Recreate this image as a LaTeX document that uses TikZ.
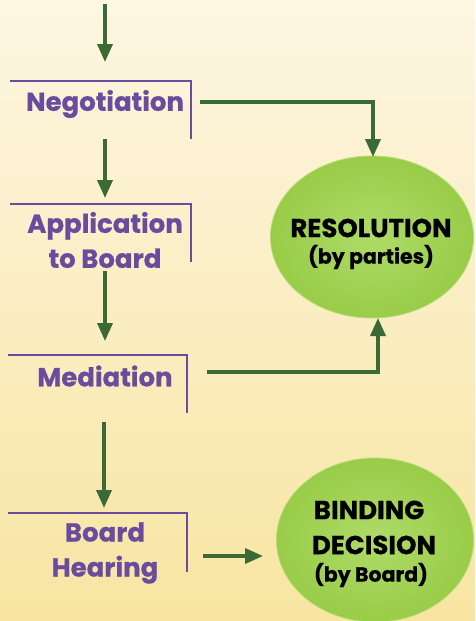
\documentclass[tikz,border=0pt]{standalone}
\usepackage{fontspec}
\setmainfont{Poppins}[BoldFeatures={FakeBold=0.6}]
\usetikzlibrary{arrows.meta,shapes.geometric}
\definecolor{bgtop}{HTML}{FDF6E2}
\definecolor{bgbot}{HTML}{F8E5A2}
\definecolor{purp}{HTML}{6A4C9E}
\definecolor{arrgreen}{HTML}{3B6A34}
\definecolor{ellin}{HTML}{AEDB68}
\definecolor{ellout}{HTML}{99CC48}
\definecolor{ellrim}{HTML}{B4DE74}
\begin{document}
\begin{tikzpicture}[x=1pt,y=-1pt,
  arr/.style={draw=arrgreen,line width=3.6pt,-{Triangle[length=18pt,width=15pt]}},
  bracket/.style={draw=purp,line width=1.6pt},
  lbl/.style={text=purp,font=\fontsize{26}{35}\selectfont\bfseries,align=center,inner sep=0pt},
  ell/.style={ellipse,inner sep=0pt,inner color=ellin,outer color=ellout,draw=ellrim,line width=0.8pt},
  etitle/.style={text=black,font=\fontsize{26}{30}\selectfont\bfseries,inner sep=0pt},
  esub/.style={text=black,font=\fontsize{20.5}{24}\selectfont\bfseries,inner sep=0pt}]
% background
\shade[top color=bgtop,bottom color=bgbot] (0,0) rectangle (475,621);
\useasboundingbox (0,0) rectangle (475,621);

% ellipses
\node[ell,minimum width=203pt,minimum height=162pt] (res) at (372,237) {};
\node[ell,minimum width=197pt,minimum height=164pt] (bind) at (375,540) {};

% brackets
\draw[bracket] (10,81) -- (191,81) -- (191,139);
\draw[bracket] (10,204) -- (191,204) -- (191,262);
\draw[bracket] (8,355) -- (187,355) -- (187,413);
\draw[bracket] (8,513) -- (187,513) -- (187,572);

% labels
\node[lbl] (neg) at (105,104) {Negotiation};
\node[lbl] (app) at (105,240) {Application\\to Board};
\node[lbl] (med) at (105,376) {Mediation};
\node[lbl] (hear) at (105,553) {Board\\Hearing};

\node[etitle] (res1) at (371,228) {RESOLUTION};
\node[esub] (res2) at (371,257) {(by parties)};
\node[etitle] (bind1) at (369,510) {BINDING};
\node[etitle] (bind2) at (374,545) {DECISION};
\node[esub] (bind3) at (371,575) {(by Board)};

% connector endpoints
\coordinate (start) at (105,4);
\coordinate (negIn) at (105,62);
\coordinate (negDown) at (105,139);
\coordinate (appIn) at (105,198);
\coordinate (appDown) at (105,271);
\coordinate (medIn) at (105,341);
\coordinate (medDown) at (104,422);
\coordinate (hearIn) at (104,508);
\coordinate (negOut) at (200,102);
\coordinate (resTop) at (373,157);
\coordinate (medOut) at (207,372);
\coordinate (resBot) at (378,318);
\coordinate (hearOut) at (203,556);
\coordinate (bindIn) at (263,556);

% connectors
\draw[arr] (start) -- (negIn);
\draw[arr] (negDown) -- (appIn);
\draw[arr] (appDown) -- (medIn);
\draw[arr] (medDown) -- (hearIn);
\draw[arr] (negOut) -| (resTop);
\draw[arr] (medOut) -| (resBot);
\draw[arr] (hearOut) -- (bindIn);
\end{tikzpicture}
\end{document}
